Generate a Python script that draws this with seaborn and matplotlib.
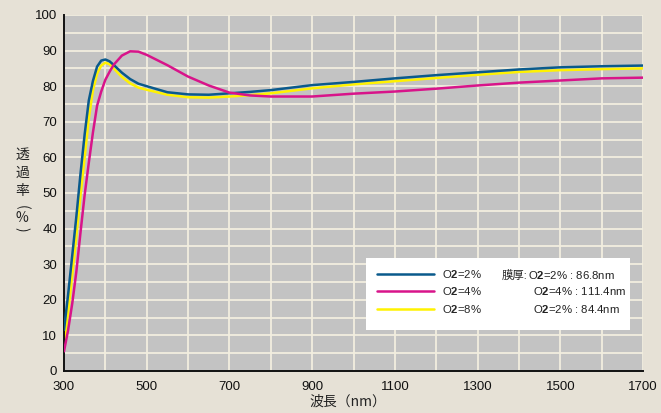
import numpy as np
import pandas as pd
import matplotlib
matplotlib.use('Agg')
import matplotlib.pyplot as plt
from matplotlib.patches import Rectangle
from matplotlib.ticker import MultipleLocator, FixedLocator
import seaborn as sns

# wavelength (nm) and transmittance (%)
wavelength = [300, 310, 320, 330, 340, 350, 360, 370, 380, 390, 400, 410, 420,
              440, 460, 480, 500, 550, 600, 650, 700, 750, 800, 900, 1000,
              1100, 1200, 1300, 1400, 1500, 1600, 1700]
o2_2 = [11.5, 21.5, 32.5, 43.5, 55.5, 66.5, 76.0, 81.5, 85.5, 87.2, 87.5, 87.0, 86.0,
        83.8, 82.0, 80.7, 80.0, 78.3, 77.7, 77.6, 78.0, 78.4, 78.9, 80.3, 81.2,
        82.2, 83.1, 83.9, 84.7, 85.3, 85.6, 85.8]
o2_4 = [5.5, 11.5, 19.0, 28.0, 39.0, 49.5, 58.5, 67.0, 74.5, 78.5, 81.8, 84.0, 86.0,
        88.6, 89.8, 89.7, 88.8, 85.9, 82.7, 80.2, 78.2, 77.4, 77.1, 77.1, 77.9,
        78.5, 79.3, 80.2, 81.0, 81.6, 82.2, 82.4]
o2_8 = [7.0, 16.5, 27.0, 38.0, 49.5, 60.0, 71.0, 78.8, 83.5, 85.8, 86.6, 86.2, 85.0,
        82.6, 80.8, 79.6, 79.0, 77.6, 76.9, 76.8, 77.1, 77.5, 78.0, 79.4, 80.5,
        81.4, 82.3, 83.2, 84.0, 84.5, 84.8, 85.0]

x_ticks = [300, 500, 700, 900, 1100, 1300, 1500, 1700]
series_labels = [r'O$\mathbf{2}$=2%', r'O$\mathbf{2}$=4%', r'O$\mathbf{2}$=8%']
series_colors = ['#0a5a8c', '#d8148a', '#fff200']
thickness_lines = [r'O$\mathbf{2}$=2% : 86.8nm',
                   r'O$\mathbf{2}$=4% : 111.4nm',
                   r'O$\mathbf{2}$=2% : 84.4nm']

df = pd.DataFrame({'wl': wavelength, 's0': o2_2, 's1': o2_4, 's2': o2_8})

sns.set_theme(style='white')
plt.rcParams['font.family'] = ['Liberation Sans', 'Noto Sans CJK JP', 'DejaVu Sans']
plt.rcParams['mathtext.fontset'] = 'custom'
plt.rcParams['mathtext.rm'] = 'Liberation Sans'
plt.rcParams['mathtext.bf'] = 'Liberation Sans:bold'

fig_bg = '#e6e1d6'
cjk = ['Noto Sans CJK JP', 'DejaVu Sans']
fig, ax = plt.subplots(figsize=(6.61, 4.13), dpi=100)
fig.patch.set_facecolor(fig_bg)
ax.set_facecolor('#c3c3c3')
plt.subplots_adjust(left=0.0968, right=0.9728, bottom=0.1017, top=0.9637)

zorders = [3, 4, 2]
for i in range(3):
    sns.lineplot(data=df, x='wl', y=f's{i}', ax=ax, color=series_colors[i],
                 linewidth=1.8, label=series_labels[i], zorder=zorders[i])

ax.set_xlim(300, 1700)
ax.set_ylim(0, 100)
ax.xaxis.set_major_locator(FixedLocator(x_ticks))
ax.xaxis.set_minor_locator(MultipleLocator(100))
ax.yaxis.set_major_locator(MultipleLocator(10))
ax.yaxis.set_minor_locator(MultipleLocator(5))
ax.grid(True, which='both', color='#f2eedf', linewidth=1.3)
ax.set_axisbelow(True)
ax.tick_params(which='both', length=0, labelsize=9.5, colors='#111111')
ax.tick_params(axis='x', pad=7)
ax.tick_params(axis='y', pad=5)

for side in ['top', 'right']:
    ax.spines[side].set_visible(False)
for side in ['left', 'bottom']:
    ax.spines[side].set_color('#111111')
    ax.spines[side].set_linewidth(1.4)

ax.set_xlabel('')
ax.set_ylabel('')
fig.text(348 / 661, 1 - 402 / 413, '波長（nm）', ha='center', va='center',
         fontsize=10, family=cjk, color='#222222')

# vertical y label, one character per line, brackets turned sideways
ylabel_chars = ['透', '過', '率', '(', '%', ')']
ylabel_pos = [155, 173, 191, 207, 218, 229]
ylabel_rot = [0, 0, 0, -90, 0, -90]
for ch, py, rot in zip(ylabel_chars, ylabel_pos, ylabel_rot):
    fig.text(22 / 661, 1 - py / 413, ch, ha='center', va='center', fontsize=10,
             family=cjk, color='#222222', rotation=rot)

# legend box
ax.add_patch(Rectangle((0.5216, 0.1152), 0.456, 0.202, transform=ax.transAxes,
                       facecolor='white', edgecolor='none', zorder=5))
leg = ax.legend(loc='upper left', bbox_to_anchor=(0.5406, 0.289), frameon=False,
                fontsize=8.2, handlelength=5.0, handletextpad=0.75,
                labelspacing=0.46, borderpad=0, borderaxespad=0)
leg.set_zorder(6)

row_y = [0.271, 0.2235, 0.173]
row_x = [0.801, 0.81, 0.81]
for txt, xx, yy in zip(thickness_lines, row_x, row_y):
    ax.text(xx, yy, txt, transform=ax.transAxes, ha='left', va='center',
            fontsize=8.2, color='#222222', zorder=7)
ax.text(0.800, row_y[0] - 0.002, '膜厚:', transform=ax.transAxes, ha='right',
        va='center', fontsize=8.2, family=['Liberation Sans', 'Noto Sans CJK JP'],
        color='#222222', zorder=7)

plt.savefig('out.png', dpi=100, facecolor=fig_bg)
